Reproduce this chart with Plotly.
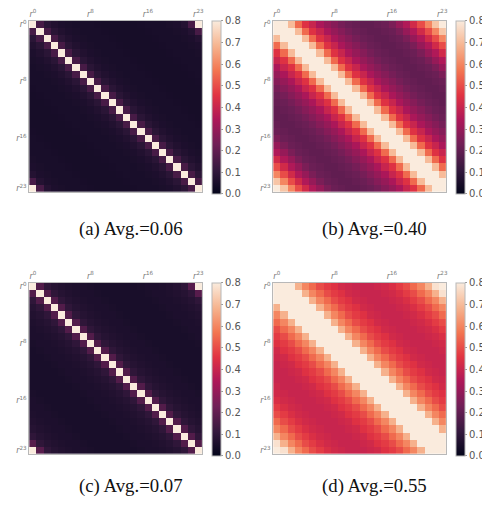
import plotly.graph_objects as go
import numpy as np

# Token index labels
n_tokens = 24
tick_positions = [0, 8, 16, 23]
tick_labels = ["<i>r</i><sup>0</sup>", "<i>r</i><sup>8</sup>", "<i>r</i><sup>16</sup>", "<i>r</i><sup>23</sup>"]

# Similarity as a function of index offset k = |i - j| (k = 0..23)
profile_a = [1.0, 0.15, 0.09, 0.07, 0.06, 0.055, 0.05, 0.05, 0.05, 0.048, 0.045, 0.045,
             0.045, 0.045, 0.045, 0.048, 0.05, 0.05, 0.05, 0.055, 0.06, 0.075, 0.15, 1.0]
profile_b = [1.0, 0.85, 0.7, 0.55, 0.45, 0.4, 0.34, 0.3, 0.27, 0.24, 0.22, 0.21,
             0.2, 0.2, 0.21, 0.22, 0.25, 0.3, 0.35, 0.42, 0.5, 0.6, 0.72, 0.9]
profile_c = [1.0, 0.17, 0.1, 0.08, 0.07, 0.065, 0.06, 0.06, 0.055, 0.05, 0.05, 0.05,
             0.05, 0.05, 0.05, 0.055, 0.06, 0.06, 0.065, 0.07, 0.08, 0.1, 0.18, 1.0]
profile_d = [1.0, 0.9, 0.8, 0.68, 0.6, 0.55, 0.5, 0.47, 0.45, 0.42, 0.41, 0.4,
             0.4, 0.4, 0.41, 0.42, 0.44, 0.47, 0.5, 0.55, 0.6, 0.68, 0.78, 0.9]

captions = ["(a) Avg.=0.06", "(b) Avg.=0.40", "(c) Avg.=0.07", "(d) Avg.=0.55"]
profiles = [profile_a, profile_b, profile_c, profile_d]

rocket = [
    [0.0, "#03051a"], [0.143, "#35193e"], [0.286, "#701f57"], [0.429, "#ad1759"],
    [0.571, "#e13342"], [0.714, "#f37651"], [0.857, "#f6b48f"], [1.0, "#faebdd"],
]

PAGE_MARGIN = 8  # default body margin of the html page
W, H = 490 - PAGE_MARGIN, 508 - PAGE_MARGIN
idx = np.arange(n_tokens)
offset = np.abs(idx[:, None] - idx[None, :])

# panel geometry in page pixels: (left, top, caption centre y)
panels = [(29.3, 15.0, 226.5), (274.3, 15.0, 226.5), (29.3, 280.7, 486.5), (274.3, 280.7, 486.5)]
side = 173.4

fig = go.Figure()
layout = {}
for p, (prof, (pl, pt, _)) in enumerate(zip(profiles, panels)):
    left, top = pl - PAGE_MARGIN, pt - PAGE_MARGIN
    z = np.array(prof)[offset]
    s = "" if p == 0 else str(p + 1)
    fig.add_trace(go.Heatmap(
        z=z, x=idx, y=idx, xaxis="x" + s, yaxis="y" + s,
        colorscale=rocket, zmin=0, zmax=0.8,
        colorbar=dict(
            x=(left + 184) / W, xanchor="left", xpad=0, ypad=0,
            y=1 - top / H, yanchor="top", len=side, lenmode="pixels",
            thickness=8.5, outlinecolor="#b8b8b8", outlinewidth=1,
            tickvals=[0, 0.1, 0.2, 0.3, 0.4, 0.5, 0.6, 0.7, 0.8], tickformat=".1f",
            ticks="outside", ticklen=2, tickcolor="#999",
            tickfont=dict(family="DejaVu Sans", size=10, color="#555"),
        ),
        hoverinfo="skip",
    ))
    axfont = dict(family="DejaVu Sans", size=8, color="#777")
    layout["xaxis" + s] = dict(
        domain=[left / W, (left + side) / W], anchor="y" + s, side="top",
        range=[-0.5, 23.5], tickvals=tick_positions, ticktext=tick_labels,
        ticks="", tickfont=axfont, showgrid=False, zeroline=False,
        showline=True, linecolor="#b8b8b8", linewidth=1, mirror=True,
    )
    layout["yaxis" + s] = dict(
        domain=[1 - (top + side) / H, 1 - top / H], anchor="x" + s,
        range=[23.5, -0.5], tickvals=tick_positions, ticktext=tick_labels,
        ticks="", tickfont=axfont, showgrid=False, zeroline=False,
        showline=True, linecolor="#b8b8b8", linewidth=1, mirror=True,
    )

annotations = []
for p, (cap, (pl, pt, cy)) in enumerate(zip(captions, panels)):
    left = pl - PAGE_MARGIN
    annotations.append(dict(
        text=cap, xref="paper", yref="paper", x=(left + 102) / W,
        y=1 - (cy - PAGE_MARGIN) / H, xanchor="center", yanchor="middle",
        showarrow=False, font=dict(family="Liberation Serif", size=18.8, color="#111"),
    ))

fig.update_layout(
    width=W, height=H, margin=dict(l=0, r=0, t=0, b=0),
    paper_bgcolor="white", plot_bgcolor="white", showlegend=False,
    annotations=annotations, **layout,
)
fig.write_html("out.html")
